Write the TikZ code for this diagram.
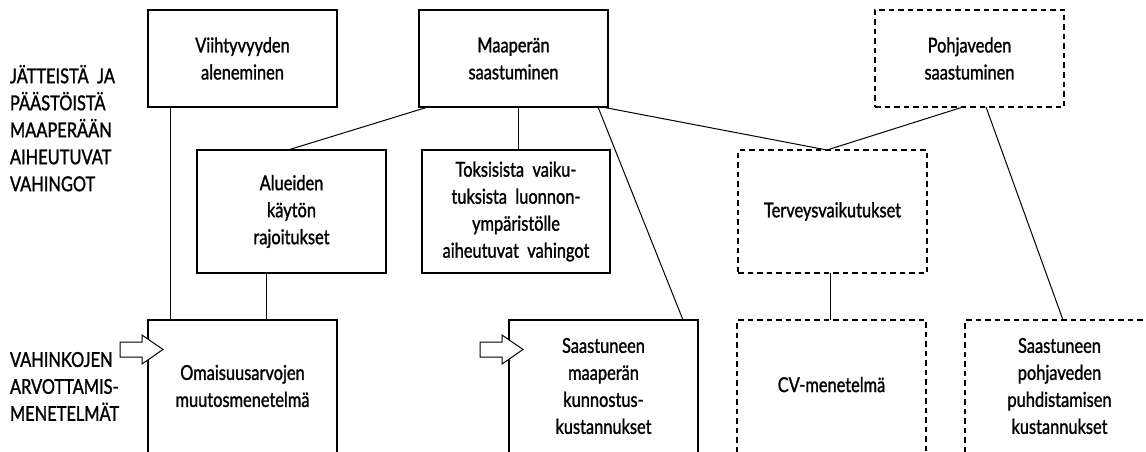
\documentclass[tikz,border=0pt]{standalone}
\usepackage{fontspec}
\setmainfont{Lato}[FakeStretch=0.8, FakeBold=1.3]
\newcommand\boxtext{\fontsize{20.5}{27}\selectfont}
\begin{document}
\begin{tikzpicture}[x=1pt,y=-1pt,
  every node/.style={inner sep=0pt, outer sep=0pt},
  box/.style={draw, line width=1.3pt, minimum width=189pt, align=center, font=\boxtext},
  dashbox/.style={box, line width=1.1pt, dash pattern=on 5.5pt off 4pt},
  openbox/.style={minimum width=189pt, minimum height=132pt, align=center, font=\boxtext},
  openframe/.style={line width=1.3pt},
  dashframe/.style={line width=1.1pt, dash pattern=on 5.5pt off 4pt},
  link/.style={line width=1pt},
  sidelabel/.style={anchor=north west, align=left, font=\boxtext},
  hollowarrow/.pic={\draw[line width=1pt, fill=white]
      (0,-7.5) -- (22,-7.5) -- (22,-14.5) -- (43,0) -- (22,14.5) -- (22,7.5) -- (0,7.5) -- cycle;}]
\useasboundingbox (0,0) rectangle (1146,452);

% side labels
\node[sidelabel] (lblA) at (10,65) {JÄTTEISTÄ\ \ JA\\PÄÄSTÖISTÄ\\MAAPERÄÄN\\AIHEUTUVAT\\VAHINGOT};
\node[sidelabel] (lblB) at (10,352) {VAHINKOJEN\\ARVOTTAMIS-\\MENETELMÄT};

% top row
\node[box, minimum height=97pt] (viiht) at (242.5,58.5) {Viihtyvyyden\\aleneminen};
\node[box, minimum height=97pt] (maap) at (513.5,58.5) {Maaperän\\saastuminen};
\node[dashbox, minimum height=97pt] (pohj) at (969.5,58.5) {Pohjaveden\\saastuminen};

% middle row
\node[box, minimum height=123pt] (alue) at (291.5,211.5) {Alueiden\\käytön\\rajoitukset};
\node[box, minimum height=123pt, minimum width=188pt] (toks) at (516,211.5) {Toksisista\ \ vaiku-\\tuksista\ \ luonnon-\\ympäristölle\\aiheutuvat\ \ vahingot};
\node[dashbox, minimum height=123pt] (terv) at (832.5,211.5) {Terveysvaikutukset};

% bottom row (frames run off the lower edge)
\node[openbox] (omai) at (242.5,386) {Omaisuusarvojen\\muutosmenetelmä};
\node[openbox] (saasm) at (603.5,386) {Saastuneen\\maaperän\\kunnostus-\\kustannukset};
\node[openbox] (cv) at (831.5,386) {\raisebox{3pt}{CV-menetelmä}};
\node[openbox] (puhd) at (1059.5,386) {Saastuneen\\pohjaveden\\puhdistamisen\\kustannukset};
\draw[openframe] (omai.south west) -- (omai.north west) -- (omai.north east) -- (omai.south east);
\draw[openframe] (saasm.south west) -- (saasm.north west) -- (saasm.north east) -- (saasm.south east);
\draw[dashframe] (cv.south west) -- (cv.north west) -- (cv.north east) -- (cv.south east);
\draw[dashframe] (puhd.south west) -- (puhd.north west) -- (puhd.north east) -- (puhd.south east);

% connectors
\draw[link] ([xshift=22pt]viiht.south west) -- ([xshift=22pt]omai.north west);
\draw[link] ([xshift=69pt]alue.south west) -- ([xshift=118pt]omai.north west);
\draw[link] ([xshift=9pt]maap.south west) -- ([xshift=91pt]alue.north west);
\draw[link] ([xshift=99pt]maap.south west) -- ([xshift=96pt]toks.north west);
\draw[link] ([xshift=-10pt]maap.south east) -- ([xshift=-15pt]saasm.north east);
\draw[link] ([xshift=-6pt]maap.south east) -- ([xshift=89pt]terv.north west);
\draw[link] ([xshift=88pt]pohj.south west) -- ([xshift=89pt]terv.north west);
\draw[link] ([xshift=111pt]pohj.south west) -- ([xshift=98pt]puhd.north west);
\draw[link] ([xshift=92pt]terv.south west) -- ([xshift=93pt]cv.north west);

% hollow pointer arrows
\pic at (120,349.5) {hollowarrow};
\pic at (480,349.5) {hollowarrow};
\end{tikzpicture}
\end{document}
